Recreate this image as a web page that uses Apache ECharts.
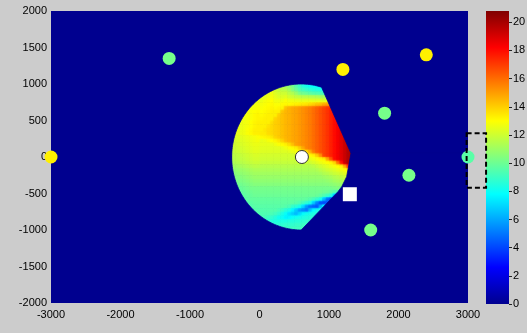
<!DOCTYPE html>
<html>
<head>
<meta charset="utf-8">
<script src="https://cdn.jsdelivr.net/npm/echarts@6/dist/echarts.min.js"></script>
<style>
html,body{margin:0;padding:0;background:#cccccc;}
#chart{width:527px;height:333px;}
</style>
</head>
<body>
<div id="chart"></div>
<script>
// ---------- axes ----------
const xRange = [-3000, 3000];
const yRange = [-2000, 2000];
const xStep = 1000;
const yStep = 500;
const colorRange = [0, 20.8];
const colorStep = 2;

// ---------- signal field (cells of 50 x 50, row 0 centred at y=975, column 0 centred at x=-375) ----------
const fieldCell = 50;
const fieldFirstX = -375;
const fieldFirstY = 975;
const fieldRowStart = [13,11,9,8,6,5,4,4,3,2,2,1,1,0,0,0,0,0,0,0,0,0,0,0,0,0,0,1,1,2,2,3,4,4,5,6,8,9,11,13];
const fieldRows = [
[11.5,11.3,11.1,10.6,10.2,9.5,9.0,8.5,8.2,8.0,7.9,7.8,7.7,7.7],
[12.5,12.1,11.8,11.6,11.5,11.1,10.4,10.0,9.4,9.1,8.9,8.7,8.5,8.4,8.3,8.1],
[12.4,12.5,12.7,12.3,12.1,12.0,12.0,11.6,11.4,10.9,10.3,10.1,9.9,9.7,9.5,9.4,9.3,9.1],
[12.4,12.5,12.7,12.8,12.5,12.3,12.3,12.4,12.1,12.0,11.8,11.7,11.6,11.6,11.5,11.5,11.4,11.2,11.2,11.2],
[12.6,12.6,12.6,12.8,12.9,13.0,12.7,12.7,12.7,12.9,12.7,12.7,12.6,12.5,12.5,12.5,12.5,12.4,12.4,12.4,12.3,12.4],
[12.6,12.7,12.8,12.8,12.9,13.0,13.1,12.9,12.9,13.1,13.1,13.1,13.2,13.3,13.4,13.5,13.6,13.8,14.0,14.3,14.4,14.8,15.0,15.4],
[12.6,12.7,12.8,12.9,12.9,13.0,13.1,13.2,13.1,13.2,13.2,14.3,14.6,14.8,14.9,15.1,15.3,15.5,15.7,16.0,16.3,16.6,16.9,17.2,17.6],
[12.8,12.9,13.0,13.1,13.0,13.1,13.2,13.3,13.3,13.3,14.2,14.5,14.6,14.8,14.9,15.1,15.3,15.5,15.7,16.0,16.3,16.6,16.9,17.2,17.6,18.0],
[12.7,12.8,12.9,13.1,13.2,13.1,13.2,13.3,13.3,13.3,14.0,14.3,14.5,14.6,14.8,14.9,15.1,15.3,15.5,15.7,16.0,16.3,16.6,16.9,17.2,17.6,18.0],
[12.6,12.7,12.8,12.9,13.1,13.2,13.2,13.3,13.3,13.3,13.9,14.1,14.3,14.5,14.6,14.8,14.9,15.1,15.3,15.5,15.7,16.0,16.3,16.6,16.9,17.2,17.6,18.0,18.4],
[12.6,12.7,12.8,13.0,13.2,13.3,13.3,13.3,13.3,13.7,14.0,14.1,14.3,14.5,14.6,14.8,14.9,15.1,15.3,15.5,15.7,16.0,16.3,16.6,16.9,17.2,17.6,18.0,18.4],
[12.5,12.6,12.7,12.8,13.0,13.2,13.3,13.3,13.3,13.6,13.8,14.0,14.1,14.3,14.5,14.6,14.8,14.9,15.1,15.3,15.5,15.7,16.0,16.3,16.6,16.9,17.2,17.6,18.0,18.4,18.8],
[12.5,12.6,12.7,12.9,13.1,13.3,13.3,13.3,13.5,13.7,13.8,14.0,14.1,14.3,14.5,14.6,14.8,14.9,15.1,15.3,15.5,15.7,16.0,16.3,16.6,16.9,17.2,17.6,18.0,18.4,18.8],
[12.4,12.5,12.6,12.7,12.9,13.1,13.3,13.3,13.4,13.4,13.7,13.8,14.0,14.1,14.3,14.5,14.6,14.8,14.9,15.1,15.3,15.5,15.7,16.0,16.3,16.6,16.9,17.2,17.6,18.0,18.4,18.8,19.3],
[12.2,12.3,12.4,12.5,12.6,12.7,12.8,12.9,13.1,13.2,13.3,13.5,13.9,14.1,14.3,14.5,14.6,14.8,14.9,15.1,15.3,15.5,15.7,16.0,16.3,16.6,16.9,17.2,17.6,18.0,18.4,18.8,19.3],
[12.1,12.2,12.3,12.4,12.5,12.6,12.7,12.8,12.5,12.6,12.8,13.0,13.2,13.5,13.9,14.4,14.6,14.8,14.9,15.1,15.3,15.5,15.7,16.0,16.3,16.6,16.9,17.2,17.6,18.0,18.4,18.8,19.3],
[12.0,12.1,12.2,12.3,12.4,12.5,12.6,12.6,12.5,12.5,12.5,12.5,12.7,12.9,13.1,13.3,13.7,14.3,14.9,15.1,15.3,15.5,15.7,16.0,16.3,16.6,16.9,17.2,17.6,18.0,18.4,18.8,19.3,19.8],
[11.9,12.0,12.1,12.2,12.3,12.4,12.5,12.5,12.4,12.4,12.4,12.4,12.4,12.4,12.5,12.7,12.9,13.1,13.3,14.0,14.8,15.5,15.7,16.0,16.3,16.6,16.9,17.2,17.6,18.0,18.4,18.8,19.3,19.8],
[11.8,11.9,12.0,12.1,12.2,12.3,12.4,12.4,12.3,12.3,12.3,12.3,12.3,12.3,12.3,12.3,12.4,12.6,12.8,13.0,13.2,13.7,14.6,15.7,16.3,16.6,16.9,17.2,17.6,18.0,18.4,18.8,19.3,19.8,20.3],
[11.6,11.7,11.8,11.9,12.0,12.1,12.2,12.2,12.1,12.1,12.1,12.1,12.1,12.1,12.1,12.1,12.1,12.1,12.3,12.5,12.7,12.9,13.1,13.3,14.1,15.3,16.9,17.2,17.6,18.0,18.4,18.8,19.3,19.8,20.3],
[11.5,11.6,11.7,11.8,11.9,12.0,12.1,12.1,12.0,12.0,12.0,12.0,12.0,12.0,12.0,12.0,12.0,12.0,12.0,12.0,12.1,12.3,12.5,12.7,12.9,13.2,13.3,14.8,16.5,18.0,18.4,18.8,19.3,19.8,20.3],
[11.3,11.4,11.5,11.6,11.7,11.8,11.9,11.9,11.8,11.8,11.8,11.8,11.8,11.8,11.8,11.8,11.8,11.8,11.8,11.8,11.8,11.9,12.0,12.2,12.4,12.6,12.8,13.0,13.2,13.8,15.8,17.8,19.3,19.8],
[11.0,11.1,11.2,11.3,11.4,11.5,11.6,11.6,11.5,11.5,11.5,11.5,11.5,11.5,11.5,11.5,11.5,11.5,11.5,11.5,11.5,11.5,11.5,11.6,11.8,12.0,12.2,12.4,12.6,12.8,13.0,13.2,14.7,17.2],
[10.7,10.8,10.9,11.0,11.1,11.2,11.3,11.3,11.3,11.3,11.3,11.3,11.3,11.3,11.3,11.3,11.3,11.3,11.3,11.3,11.3,11.3,11.3,11.3,11.4,11.6,11.8,12.0,12.1,12.3,12.5,12.7,12.9,13.1],
[10.5,10.6,10.7,10.8,10.9,11.0,11.1,11.1,11.1,11.1,11.1,11.1,11.1,11.1,11.1,11.1,11.1,11.1,11.1,11.1,11.1,11.1,11.1,11.1,11.1,11.2,11.4,11.5,11.7,11.9,12.0,12.2,12.4,12.6],
[10.3,10.4,10.5,10.6,10.7,10.8,10.9,10.9,10.9,10.9,10.9,10.9,10.9,10.9,10.9,10.9,10.9,10.9,10.9,10.9,10.9,10.9,10.9,10.9,10.9,10.9,11.0,11.1,11.2,11.4,11.5,11.7,11.9,12.0],
[10.2,10.2,10.3,10.4,10.5,10.6,10.7,10.7,10.7,10.7,10.7,10.7,10.7,10.7,10.7,10.7,10.7,10.7,10.7,10.7,10.7,10.7,10.7,10.7,10.7,10.7,10.7,10.8,10.9,11.1,11.2,11.3,11.5],
[10.0,10.1,10.2,10.3,10.4,10.5,10.5,10.5,10.5,10.5,10.5,10.5,10.5,10.5,10.5,10.5,10.5,10.5,10.5,10.5,10.5,10.5,10.5,10.5,10.5,10.5,10.5,10.6,10.7,10.8,10.9,11.0],
[9.8,9.9,10.0,10.1,10.2,10.2,10.2,10.2,10.2,10.2,10.2,10.2,10.2,10.2,10.2,10.2,10.2,10.2,10.2,10.2,10.2,10.2,10.2,10.2,10.2,10.2,10.2,10.2,10.3,10.4,10.0],
[9.7,9.8,9.9,10.0,10.1,10.1,10.1,10.1,10.1,10.1,10.1,10.1,10.1,10.1,10.1,10.1,10.1,10.1,10.1,10.1,10.1,10.1,10.1,10.1,10.0,10.0,9.8,9.5,9.2],
[9.6,9.7,9.8,9.9,10.0,10.0,10.0,10.0,10.0,10.0,10.0,10.0,10.0,10.0,10.0,10.0,10.0,10.0,10.0,10.0,10.0,10.0,9.9,9.7,9.4,9.0,8.5,6.3,4.6],
[9.6,9.7,9.8,9.8,9.8,9.8,9.8,9.8,9.8,9.8,9.8,9.8,9.8,9.8,9.8,9.8,9.8,9.8,9.7,9.5,9.2,8.8,8.3,6.3,4.8,3.9,3.9],
[9.5,9.6,9.7,9.7,9.7,9.7,9.7,9.7,9.7,9.7,9.7,9.7,9.7,9.7,9.6,9.4,9.1,8.7,8.3,6.6,5.2,4.1,4.0,4.3,6.1],
[9.4,9.5,9.6,9.6,9.6,9.6,9.6,9.6,9.6,9.6,9.6,9.5,9.3,8.8,8.6,8.2,7.0,5.7,4.9,4.6,4.4,6.2,8.0,8.2],
[9.4,9.5,9.5,9.5,9.5,9.5,9.5,9.5,9.3,9.0,8.6,8.3,7.6,6.7,5.8,5.4,5.1,6.6,7.8,8.2,8.3,8.4],
[9.4,9.4,9.4,9.4,9.4,9.3,9.1,8.8,8.3,7.9,7.2,6.8,6.4,7.1,7.9,8.2,8.3,8.4,8.5,8.6],
[9.3,9.2,9.0,8.8,8.5,8.1,8.0,7.6,7.7,8.0,8.2,8.3,8.4,8.5,8.6,8.7,8.8],
[8.9,8.7,8.5,8.4,8.4,8.4,8.4,8.5,8.5,8.6,8.6,8.7,8.8,8.8,8.9],
[8.8,8.7,8.7,8.7,8.8,8.8,8.8,8.9,8.9,9.0,9.0,9.0],
[9.0,9.0,9.0,9.0,9.1,9.1,9.1,9.2,9.2]
];

// ---------- coverage outline ----------
const fanCenter = [600, 0];
const fanRadius = 1000;
const fanArcStart = 73;   // degrees
const fanArcEnd = 270;    // degrees
const fanEdge = [[1129, -475], [1183, -407], [1254, -270], [1316, 50]];

// ---------- nodes ----------
const greenNodes = [[-1300, 1350, 10.2], [1800, 600, 10.2], [2150, -250, 10.2], [1600, -1000, 10.2], [3000, 0, 9.6]];
const yellowNodes = [[1200, 1200, 13.3], [2400, 1400, 13.3], [-3000, 0, 13.3]];
const sensorNode = [[610, 0]];
const targetNode = [[1300, -510]];
const zoomBox = [[2980, 325], [3260, -420]];

// ---------- style ----------
const jetColors = ['#00008F', '#0000FF', '#0080FF', '#00FFFF', '#80FF80', '#FFFF00', '#FF8000', '#FF0000', '#800000'];
const bgBlue = '#00008F';
const fontFam = "'Liberation Sans Narrow', 'Liberation Sans', Arial, sans-serif";

// ---------- helpers ----------
const fieldCells = [];
fieldRows.forEach((row, j) => {
  row.forEach((v, k) => {
    fieldCells.push([fieldFirstX + (fieldRowStart[j] + k) * fieldCell, fieldFirstY - j * fieldCell, v, j, fieldRowStart[j] + k]);
  });
});
function fieldAt(j, i) {
  if (j < 0 || j >= fieldRows.length) return null;
  const k = i - fieldRowStart[j];
  const r = fieldRows[j];
  return (k >= 0 && k < r.length) ? r[k] : null;
}
function hexRgb(h) { return [parseInt(h.slice(1, 3), 16), parseInt(h.slice(3, 5), 16), parseInt(h.slice(5, 7), 16)]; }
const jetRgb = jetColors.map(hexRgb);
function valColor(v) {
  let t = (v - colorRange[0]) / (colorRange[1] - colorRange[0]);
  t = Math.min(1, Math.max(0, t));
  if (echarts.color && echarts.color.lerp) return echarts.color.lerp(t, jetColors);
  const p = t * (jetRgb.length - 1), a = Math.floor(p), b = Math.min(jetRgb.length - 1, a + 1), f = p - a;
  const c = jetRgb[a].map((x, n) => Math.round(x + (jetRgb[b][n] - x) * f));
  return 'rgb(' + c.join(',') + ')';
}
function gradStops(v0, v, v1) {
  return [
    { offset: 0, color: valColor(v0) },
    { offset: 0.25, color: valColor((v0 + v) / 2) },
    { offset: 0.5, color: valColor(v) },
    { offset: 0.75, color: valColor((v + v1) / 2) },
    { offset: 1, color: valColor(v1) }
  ];
}
function arcPts(a0, a1) {
  const pts = [];
  const n = Math.max(2, Math.ceil(Math.abs(a1 - a0) / 1.5));
  for (let k = 0; k <= n; k++) {
    const a = (a0 + (a1 - a0) * k / n) * Math.PI / 180;
    pts.push([fanCenter[0] + fanRadius * Math.cos(a), fanCenter[1] + fanRadius * Math.sin(a)]);
  }
  return pts;
}
function cellRenderer(vertical, opacity) {
  return (params, api) => {
    const x = api.value(0), y = api.value(1), v = api.value(2), j = api.value(3), i = api.value(4), h = fieldCell / 2;
    const a = api.coord([x - h, y + h]);
    const b = api.coord([x + h, y - h]);
    const n0 = vertical ? fieldAt(j - 1, i) : fieldAt(j, i - 1);
    const n1 = vertical ? fieldAt(j + 1, i) : fieldAt(j, i + 1);
    const v0 = n0 == null ? v : (n0 + v) / 2;
    const v1 = n1 == null ? v : (n1 + v) / 2;
    return {
      type: 'rect',
      shape: { x: a[0], y: a[1], width: b[0] - a[0] + 0.5, height: b[1] - a[1] + 0.5 },
      style: {
        fill: { type: 'linear', x: 0, y: 0, x2: vertical ? 0 : 1, y2: vertical ? 1 : 0, colorStops: gradStops(v0, v, v1) },
        opacity: opacity
      }
    };
  };
}

const plainLabel = v => String(v);

const chart = echarts.init(document.getElementById('chart'), null, { renderer: 'canvas' });
const option = {
  animation: false,
  backgroundColor: '#cccccc',
  grid: [
    { left: 51, top: 11, width: 417, height: 292, show: true, backgroundColor: bgBlue, borderWidth: 0, containLabel: false, outerBoundsMode: 'none' },
    { left: 486, top: 11, width: 23, height: 293, show: false, containLabel: false, outerBoundsMode: 'none' }
  ],
  xAxis: [
    { gridIndex: 0, type: 'value', min: xRange[0], max: xRange[1], interval: xStep,
      axisLine: { show: false }, axisTick: { show: false }, splitLine: { show: false },
      axisLabel: { color: '#000', fontSize: 11, fontFamily: fontFam, margin: 6, formatter: plainLabel } },
    { gridIndex: 1, type: 'category', data: ['c'], show: false }
  ],
  yAxis: [
    { gridIndex: 0, type: 'value', min: yRange[0], max: yRange[1], interval: yStep,
      axisLine: { show: false }, axisTick: { show: false }, splitLine: { show: false },
      axisLabel: { color: '#000', fontSize: 11, fontFamily: fontFam, margin: 4, padding: [3, 0, 0, 0], formatter: plainLabel } },
    { gridIndex: 1, type: 'value', min: colorRange[0], max: colorRange[1], interval: colorStep, position: 'right',
      axisLine: { show: false }, splitLine: { show: false },
      axisTick: { show: true, length: 3, lineStyle: { color: '#222' } },
      axisLabel: { color: '#000', fontSize: 11, fontFamily: fontFam, margin: 4, showMaxLabel: false,
        formatter: v => (Math.abs(v / colorStep - Math.round(v / colorStep)) < 1e-6 ? String(v) : '') } }
  ],
  visualMap: {
    show: false, type: 'continuous', min: colorRange[0], max: colorRange[1], dimension: 2,
    seriesIndex: [3], inRange: { color: jetColors }
  },
  series: [
    {
      type: 'custom', xAxisIndex: 0, yAxisIndex: 0, clip: true, silent: true, z: 1,
      data: fieldCells, encode: { x: 0, y: 1 },
      renderItem: cellRenderer(false, 1)
    },
    {
      type: 'custom', xAxisIndex: 0, yAxisIndex: 0, clip: true, silent: true, z: 2,
      data: fieldCells, encode: { x: 0, y: 1 },
      renderItem: cellRenderer(true, 0.5)
    },
    {
      type: 'custom', xAxisIndex: 0, yAxisIndex: 0, clip: true, silent: true, z: 3,
      data: [[0, 0]], encode: { x: 0, y: 1 },
      renderItem: (params, api) => {
        const tip = fanEdge[fanEdge.length - 1];
        const upper = [[xRange[0], 0]].concat(arcPts(180, fanArcStart), [tip, [xRange[1], tip[1]], [xRange[1], yRange[1]], [xRange[0], yRange[1]]]);
        const lower = [[xRange[0], 0]].concat(arcPts(180, fanArcEnd), fanEdge, [[xRange[1], tip[1]], [xRange[1], yRange[0]], [xRange[0], yRange[0]]]);
        return { type: 'group', children: [upper, lower].map(poly => ({
          type: 'polygon', shape: { points: poly.map(p => api.coord(p)) },
          style: { fill: bgBlue, stroke: bgBlue, lineWidth: 0.8 } })) };
      }
    },
    {
      type: 'scatter', xAxisIndex: 0, yAxisIndex: 0, clip: true, silent: true, z: 4,
      symbol: 'circle', symbolSize: 13,
      itemStyle: { opacity: 1 },
      data: greenNodes.concat(yellowNodes)
    },
    {
      type: 'scatter', xAxisIndex: 0, yAxisIndex: 0, silent: true, z: 5,
      symbol: 'circle', symbolSize: 13,
      itemStyle: { color: '#ffffff', borderColor: '#333', borderWidth: 1, opacity: 1 },
      data: sensorNode
    },
    {
      type: 'scatter', xAxisIndex: 0, yAxisIndex: 0, silent: true, z: 5,
      symbol: 'rect', symbolSize: 14,
      itemStyle: { color: '#ffffff', opacity: 1 },
      data: targetNode
    },
    {
      type: 'custom', xAxisIndex: 0, yAxisIndex: 0, clip: false, silent: true, z: 10,
      data: [[0, 0]], encode: { x: 0, y: 1 },
      renderItem: (params, api) => {
        const a = api.coord(zoomBox[0]), b = api.coord(zoomBox[1]);
        return { type: 'rect', shape: { x: a[0], y: a[1], width: b[0] - a[0], height: b[1] - a[1] },
          style: { fill: 'none', stroke: '#000', lineWidth: 2, lineDash: [5, 3] } };
      }
    },
    {
      type: 'bar', xAxisIndex: 1, yAxisIndex: 1, silent: true, barWidth: '100%', z: 2,
      data: [colorRange[1]],
      itemStyle: { color: { type: 'linear', x: 0, y: 1, x2: 0, y2: 0,
        colorStops: jetColors.map((c, k) => ({ offset: k / (jetColors.length - 1), color: c })) } }
    }
  ]
};
chart.setOption(option);
</script>
</body>
</html>
